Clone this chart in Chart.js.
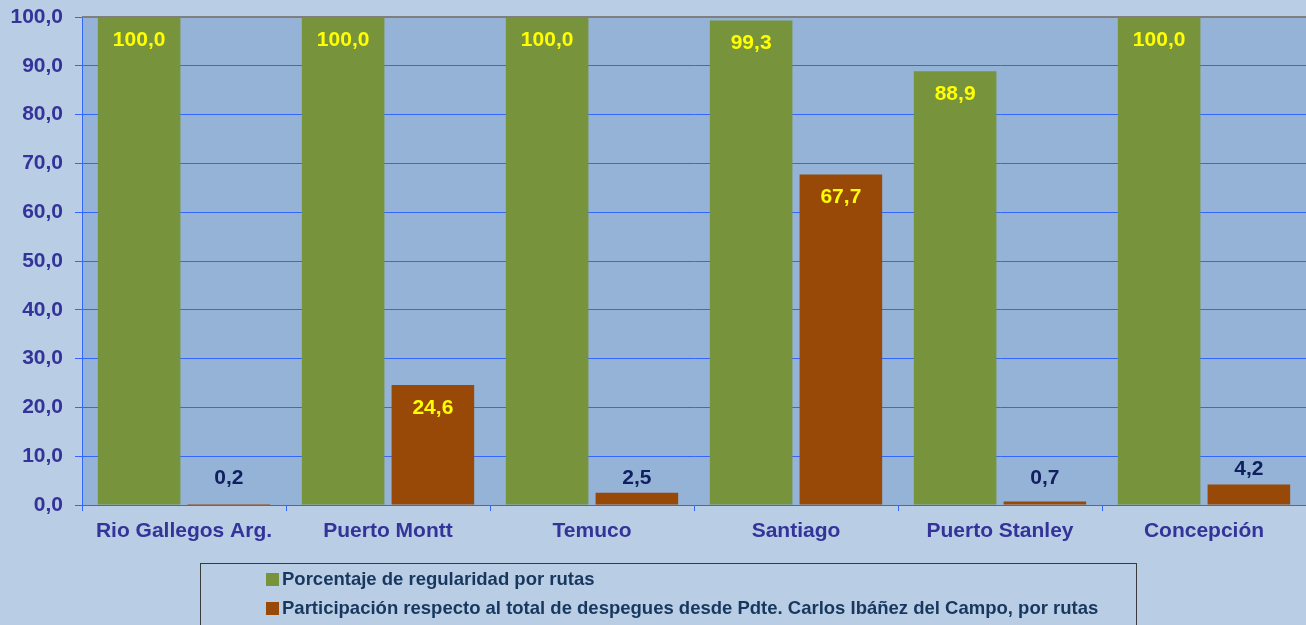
<!DOCTYPE html>
<html>
<head>
<meta charset="utf-8">
<script src="https://cdn.jsdelivr.net/npm/chart.js@4/dist/chart.umd.min.js"></script>
<style>
  html, body { margin: 0; padding: 0; background: #b9cde5; }
  #wrap { width: 1306px; height: 625px; position: relative; }
</style>
</head>
<body>
<div id="wrap"><canvas id="chart"></canvas></div>
<script>
  const categories = ["Rio Gallegos Arg.", "Puerto Montt", "Temuco", "Santiago", "Puerto Stanley", "Concepción"];
  const regularidad = [100.0, 100.0, 100.0, 99.3, 88.9, 100.0];
  const participacion = [0.2, 24.6, 2.5, 67.7, 0.7, 4.2];
  const seriesLabels = [
    "Porcentaje de regularidad por rutas",
    "Participación respecto al total de despegues desde Pdte. Carlos Ibáñez del Campo, por rutas"
  ];
  const yTicks = [0, 10, 20, 30, 40, 50, 60, 70, 80, 90, 100];

  const GREEN = "#77933c";
  const ORANGE = "#984807";
  const AXIS_TEXT = "#333399";
  const GRID = "#3366ff";
  const FONT = "'Liberation Sans', Arial, sans-serif";

  const fmt = (v) => v.toFixed(1).replace(".", ",");

  /* === plot area background + top border === */
  const plotBg = {
    id: "plotBg",
    beforeDraw(chart) {
      const { ctx, chartArea: a } = chart;
      ctx.save();
      ctx.fillStyle = "#95b3d7";
      ctx.fillRect(a.left, a.top, a.right - a.left, a.bottom - a.top);
      ctx.restore();
    },
    afterDraw(chart) {
      const { ctx, chartArea: a } = chart;
      ctx.save();
      ctx.strokeStyle = "#7f7f7f";
      ctx.lineWidth = 2;
      ctx.beginPath();
      ctx.moveTo(a.left, a.top);
      ctx.lineTo(a.right, a.top);
      ctx.stroke();
      ctx.restore();
    }
  };

  /* === value labels === */
  const valueLabels = {
    id: "valueLabels",
    afterDatasetsDraw(chart) {
      const ctx = chart.ctx;
      ctx.save();
      ctx.font = "bold 21px " + FONT;
      ctx.textAlign = "center";
      ctx.textBaseline = "middle";
      chart.data.datasets.forEach((ds, i) => {
        chart.getDatasetMeta(i).data.forEach((bar, j) => {
          const v = ds.data[j];
          const inside = v > 20;
          ctx.fillStyle = inside ? "#ffff00" : "#0f1f5f";
          const y = inside ? bar.y + 23 : Math.min(bar.y - 15, 478);
          ctx.fillText(fmt(v), bar.x, y);
        });
      });
      ctx.restore();
    }
  };

  /* === legend box === */
  const boxLegend = {
    id: "boxLegend",
    afterDraw(chart) {
      const ctx = chart.ctx;
      ctx.save();
      ctx.strokeStyle = "#3a3a3a";
      ctx.lineWidth = 1;
      ctx.strokeRect(200.5, 563.5, 936, 80);
      ctx.font = "bold 18.5px " + FONT;
      ctx.textBaseline = "middle";
      ctx.textAlign = "left";
      const rows = [579, 608];
      chart.data.datasets.forEach((ds, i) => {
        const y = rows[i];
        ctx.fillStyle = ds.backgroundColor;
        ctx.fillRect(266, y - 6, 13, 13);
        ctx.fillStyle = "#17375e";
        ctx.fillText(ds.label, 282, y + 1);
      });
      ctx.restore();
    }
  };

  new Chart(document.getElementById("chart"), {
    type: "bar",
    data: {
      labels: categories,
      datasets: [
        { label: seriesLabels[0], data: regularidad, backgroundColor: GREEN },
        { label: seriesLabels[1], data: participacion, backgroundColor: ORANGE }
      ]
    },
    options: {
      responsive: true,
      maintainAspectRatio: false,
      animation: false,
      events: [],
      layout: { padding: { top: 17, right: 0, left: 0, bottom: 0 } },
      datasets: { bar: { categoryPercentage: 0.88, barPercentage: 0.92 } },
      plugins: { legend: { display: false }, tooltip: { enabled: false } },
      scales: {
        x: {
          afterFit: (s) => { s.height = 120; s.paddingLeft = 0; s.paddingRight = 0; },
          grid: { offset: true, drawOnChartArea: false, color: GRID, tickLength: 6, lineWidth: 1 },
          border: { color: GRID, width: 1 },
          ticks: { color: AXIS_TEXT, font: { family: FONT, size: 21, weight: "bold" }, padding: 8 }
        },
        y: {
          min: 0,
          max: 100,
          afterFit: (s) => { s.width = 82; s.paddingTop = 0; s.paddingBottom = 0; },
          afterBuildTicks: (s) => { s.ticks = yTicks.map((v) => ({ value: v })); },
          grid: { color: GRID, tickLength: 7, lineWidth: 1 },
          border: { color: GRID, width: 1 },
          ticks: {
            color: AXIS_TEXT,
            padding: 12,
            font: { family: FONT, size: 21, weight: "bold" },
            callback: (v) => fmt(v)
          }
        }
      }
    },
    plugins: [plotBg, valueLabels, boxLegend]
  });
</script>
</body>
</html>
